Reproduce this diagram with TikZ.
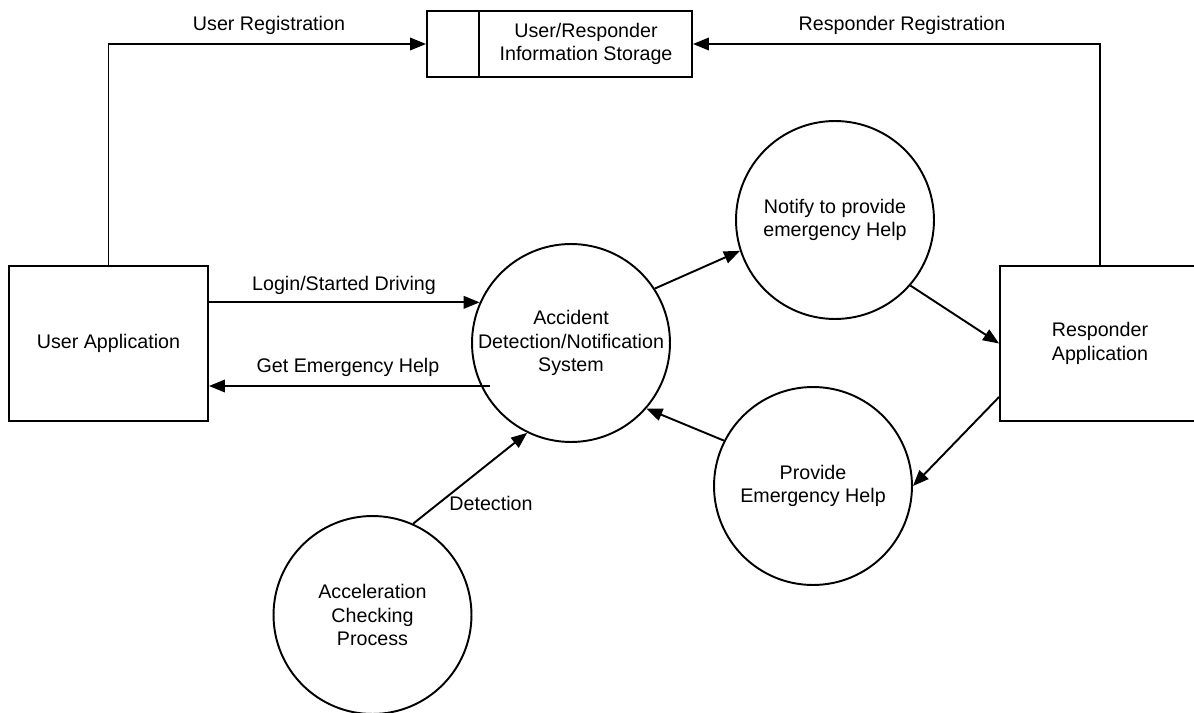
\documentclass[tikz,border=0pt]{standalone}
\usepackage{fontspec}
\setmainfont{Liberation Sans}
\usetikzlibrary{arrows.meta}

\begin{document}
\begin{tikzpicture}[x=0.02cm,y=-0.02cm,
  every node/.style={font=\fontsize{11.2}{13.2}\selectfont,align=center},
  entity/.style={draw,line width=1.1pt,minimum width=3.98cm,minimum height=3.1cm,inner sep=0pt},
  process/.style={draw,circle,line width=1.1pt,minimum size=3.96cm,inner sep=0pt},
  store/.style={draw,line width=1.1pt,minimum width=5.3cm,minimum height=1.32cm,inner sep=0pt},
  flow/.style={line width=1.1pt,-{Triangle[length=3.2mm,width=2.5mm]}}]

  \useasboundingbox (0,0) rectangle (1194,713);

  %% External entities and storage
  \node[entity] (userapp) at (108.5,343.5) {User Application};
  \node[entity,minimum width=4cm] (respapp) at (1100,343.5) {Responder\\Application};
  \node[store] (storage) at (559.5,44) {};
  \draw[line width=1.1pt] ([xshift=1.06cm]storage.north west) -- ([xshift=1.06cm]storage.south west);
  \node (storetext) at (586,44) {User/Responder\\Information Storage};

  %% Processes
  \node[process] (detect) at (571,343) {Accident\\Detection/Notification\\System};
  \node[process] (notify) at (835,220) {Notify to provide\\emergency Help};
  \node[process] (provide) at (813,486) {Provide\\Emergency Help};
  \node[process] (accel) at (372.5,615) {Acceleration\\Checking\\Process};

  %% Data flows
  \draw[flow] (userapp.north) |- (storage.west);
  \draw[flow] (respapp.north) |- (storage.east);
  \draw[flow] (detect.156 -| userapp.east) -- (detect.156);
  \coordinate (helpstart) at (490,386);
  \draw[flow] (helpstart) -- (helpstart -| userapp.east);
  \draw[flow] (detect.33) -- (notify.198);
  \draw[flow] (notify.-41) -- (respapp.west);
  \draw[flow] ([yshift=-1.07cm]respapp.west) -- (provide.east);
  \draw[flow] (provide.153) -- (detect.-41);
  \draw[flow] (accel.66) -- (detect.244);

  %% Flow labels
  \node (userreg) at (269,25) {User Registration};
  \node (respreg) at (902,25) {Responder Registration};
  \node (login) at (344,285) {Login/Started Driving};
  \node (gethelp) at (348,367) {Get Emergency Help};
  \node (detection) at (491,503) {Detection};

\end{tikzpicture}
\end{document}
